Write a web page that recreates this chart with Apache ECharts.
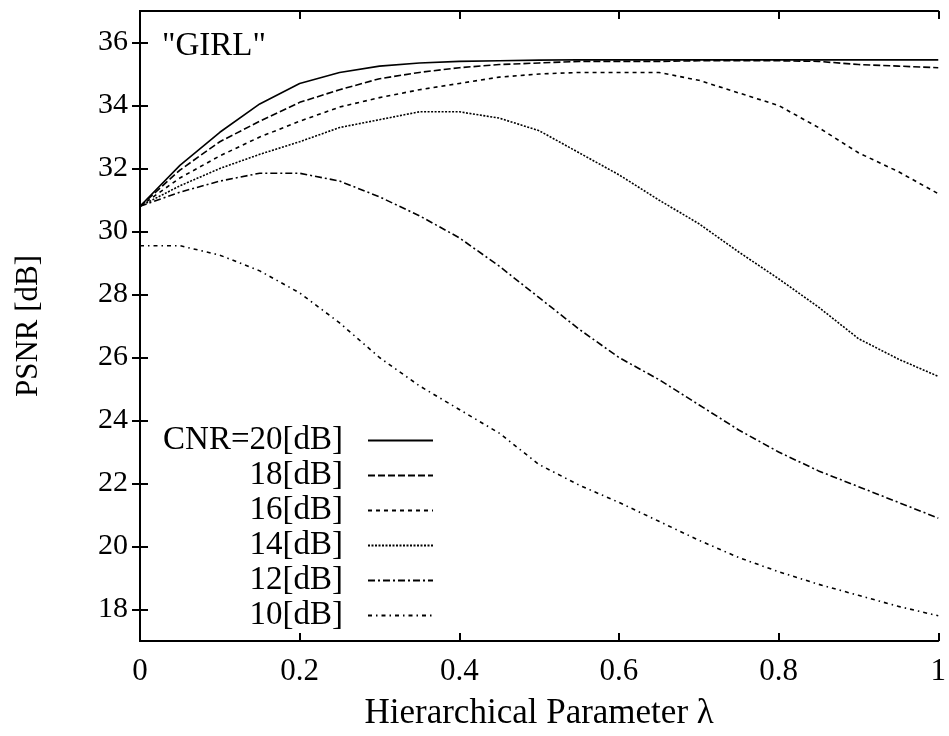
<!DOCTYPE html>
<html><head><meta charset="utf-8">
<script src="https://cdn.jsdelivr.net/npm/echarts@6/dist/echarts.min.js"></script>
<style>html,body{margin:0;padding:0;background:#fff}#c{width:949px;height:736px}</style>
</head><body><div id="c"></div>
<script>
const lambda = [0,0.05,0.1,0.15,0.2,0.25,0.3,0.35,0.4,0.45,0.5,0.55,0.6,0.65,0.7,0.75,0.8,0.85,0.9,0.95,1];
const cnr20 = [30.8,32.1,33.15,34.05,34.7,35.05,35.25,35.35,35.4,35.42,35.44,35.45,35.45,35.45,35.45,35.45,35.45,35.45,35.45,35.45,35.45];
const cnr18 = [30.8,31.95,32.85,33.5,34.1,34.5,34.85,35.05,35.2,35.3,35.35,35.4,35.4,35.4,35.42,35.42,35.42,35.4,35.3,35.25,35.2];
const cnr16 = [30.8,31.7,32.4,33.0,33.5,33.95,34.25,34.5,34.7,34.9,35.0,35.05,35.05,35.05,34.8,34.4,34.0,33.3,32.5,31.9,31.2];
const cnr14 = [30.8,31.45,32.0,32.45,32.85,33.3,33.55,33.8,33.8,33.6,33.2,32.5,31.8,31.0,30.25,29.35,28.5,27.6,26.6,25.95,25.4];
const cnr12 = [30.8,31.25,31.6,31.85,31.85,31.6,31.1,30.5,29.8,28.9,27.9,26.9,26.0,25.3,24.5,23.7,23.0,22.4,21.9,21.4,20.9];
const cnr10 = [29.55,29.55,29.25,28.75,28.05,27.1,26.0,25.1,24.35,23.6,22.6,21.95,21.4,20.8,20.2,19.65,19.2,18.8,18.45,18.1,17.8];
const seriesNames = ['CNR=20[dB]','18[dB]','16[dB]','14[dB]','12[dB]','10[dB]'];
const yTicks = [18,20,22,24,26,28,30,32,34,36];
const xTicks = [0,0.2,0.4,0.6,0.8,1];

const allData = [cnr20,cnr18,cnr16,cnr14,cnr12,cnr10];
const dashes = ['solid',[7,3],[4,4],[2,1.5],[7,3,2,3],[4,4,1.5,4]];
const serif = 'Liberation Serif';

const chart = echarts.init(document.getElementById('c'));
const series = allData.map((d,i)=>({
  name: seriesNames[i], type:'line', xAxisIndex:0, yAxisIndex:0,
  data: d.map((v,j)=>[lambda[j], v]),
  symbol:'none', smooth:false,
  lineStyle:{color:'#000', width:1.6, type:dashes[i]},
  itemStyle:{color:'#000'}
}));
const tickStyle = {show:true, inside:true, length:8, lineStyle:{color:'#000', width:2}};
const axisCommon = {
  axisLine:{show:true, lineStyle:{color:'#000', width:2}},
  axisTick:tickStyle,
  splitLine:{show:false}
};
chart.setOption({
  animation:false,
  backgroundColor:'#fff',
  grid:{left:140, right:9, top:11, bottom:93, show:false},
  xAxis:[
    Object.assign({type:'value', min:0, max:1, interval:0.2, position:'bottom',
      name:'Hierarchical Parameter λ', nameLocation:'middle', nameGap:55,
      nameTextStyle:{fontFamily:serif, fontSize:35, color:'#000'},
      axisLabel:{fontFamily:serif, fontSize:31, color:'#000', margin:15,
        formatter:v=>xTicks.includes(+v.toFixed(1))?String(+v.toFixed(1)):''}}, axisCommon),
    Object.assign({type:'value', min:0, max:1, interval:0.2, position:'top', axisLabel:{show:false}}, axisCommon)
  ],
  yAxis:[
    Object.assign({type:'value', min:17, max:37, interval:1, position:'left',
      name:'PSNR [dB]', nameLocation:'middle', nameGap:96, nameRotate:90,
      nameTextStyle:{fontFamily:serif, fontSize:31, color:'#000'},
      axisLabel:{fontFamily:serif, fontSize:30, color:'#000', margin:12,
        formatter:v=>yTicks.includes(v)?String(v):''}}, axisCommon,
      {axisTick:Object.assign({customValues:yTicks}, tickStyle)}),
    Object.assign({type:'value', min:17, max:37, interval:1, position:'right', axisLabel:{show:false}}, axisCommon,
      {axisTick:Object.assign({customValues:yTicks}, tickStyle)})
  ],
  title:{text:'"GIRL"', left:157, top:25, textStyle:{fontFamily:serif, fontSize:33, fontWeight:'normal', color:'#000'}},
  legend:{
    orient:'vertical', left:148, top:419, align:'right',
    itemWidth:65, itemHeight:14, itemGap:2,
    data: seriesNames,
    itemStyle:{color:'transparent', borderColor:'transparent', borderWidth:0},
    textStyle:{fontFamily:serif, fontSize:33, color:'#000', width:190, align:'right', lineHeight:30, padding:[0,20,0,0]},
    selectedMode:false
  },
  series: series
});
</script></body></html>
